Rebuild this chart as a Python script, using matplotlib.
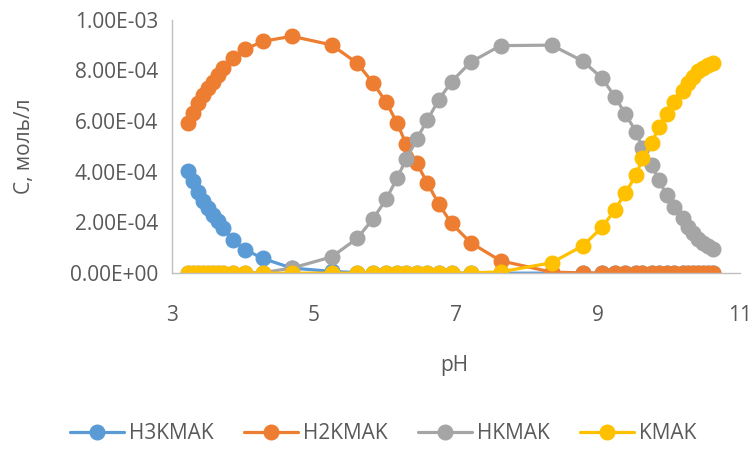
import numpy as np
import matplotlib.pyplot as plt
from matplotlib.ticker import FuncFormatter, MultipleLocator

# pH of each point
ph = [3.23, 3.30, 3.37, 3.44, 3.51, 3.58, 3.65, 3.72, 3.86, 4.03, 4.28, 4.69,
      5.25, 5.61, 5.83, 6.02, 6.17, 6.30, 6.45, 6.60, 6.76, 6.94, 7.21, 7.63,
      8.35, 8.79, 9.06, 9.24, 9.39, 9.54, 9.63, 9.76, 9.86, 9.97, 10.08, 10.20,
      10.27, 10.34, 10.41, 10.48, 10.55, 10.62]

# concentrations, units of 1e-4 mol/l
h3 = [4.04, 3.62, 3.22, 2.86, 2.56, 2.30, 2.05, 1.80, 1.30, 0.93, 0.58, 0.20,
      0.07, 0.02, 0.01, 0, 0, 0, 0, 0, 0, 0, 0, 0,
      0, 0, 0, 0, 0, 0, 0, 0, 0, 0, 0, 0,
      0, 0, 0, 0, 0, 0]
h2 = [5.92, 6.33, 6.71, 7.04, 7.31, 7.55, 7.83, 8.10, 8.50, 8.83, 9.15, 9.35,
      9.01, 8.29, 7.52, 6.75, 5.94, 5.10, 4.34, 3.55, 2.73, 1.96, 1.20, 0.49,
      0.04, 0.01, 0, 0, 0, 0, 0, 0, 0, 0, 0, 0,
      0, 0, 0, 0, 0, 0]
h1 = [0, 0, 0, 0, 0, 0, 0, 0, 0, 0.01, 0.02, 0.20,
      0.64, 1.37, 2.13, 2.92, 3.74, 4.49, 5.30, 6.05, 6.84, 7.56, 8.33, 8.98,
      9.00, 8.37, 7.70, 6.97, 6.28, 5.58, 4.93, 4.27, 3.68, 3.08, 2.62, 2.16,
      1.83, 1.57, 1.36, 1.18, 1.06, 0.95]
k = [0, 0, 0, 0, 0, 0, 0, 0, 0, 0, 0, 0,
     0, 0, 0, 0, 0, 0, 0, 0, 0, 0, 0.01, 0.05,
     0.41, 1.08, 1.81, 2.49, 3.17, 3.87, 4.53, 5.13, 5.76, 6.28, 6.77, 7.17,
     7.50, 7.76, 7.96, 8.09, 8.22, 8.31]

names = ["H3KMAK", "H2KMAK", "HKMAK", "KMAK"]
colors = ["#5B9BD5", "#ED7D31", "#A5A5A5", "#FFC000"]
xticks = [3, 5, 7, 9, 11]

plt.rcParams['font.family'] = ['Open Sans', 'DejaVu Sans']
txt = "#595959"

fig = plt.figure(figsize=(7.54, 4.5), dpi=100)
ax = fig.add_axes([0.228, 0.393, 0.753, 0.563])

for vals, name, c in zip([h3, h2, h1, k], names, colors):
    ax.plot(ph, np.array(vals) * 1e-4, color=c, lw=2.3, marker='o', ms=10.5,
            label=name, solid_capstyle='round')

ax.set_xlim(3, 11)
ax.set_ylim(0, 1e-3)
ax.set_xticks(xticks)
ax.yaxis.set_major_locator(MultipleLocator(2e-4))
ax.yaxis.set_major_formatter(FuncFormatter(lambda v, p: f"{v:.2E}"))
ax.tick_params(length=0, labelsize=15, colors=txt)
ax.tick_params(axis='y', pad=10)
ax.tick_params(axis='x', pad=23)

for s in ['top', 'right']:
    ax.spines[s].set_visible(False)
for s in ['left', 'bottom']:
    ax.spines[s].set_color('#BFBFBF')
    ax.spines[s].set_linewidth(1)

ax.set_xlabel("pH", fontsize=15, color=txt, va='center')
ax.set_ylabel("C, моль/л", fontsize=15, color=txt, va='center')
ax.xaxis.set_label_coords(0.497, -0.364)
ax.yaxis.set_label_coords(-0.259, 0.5)

fig.legend(loc='center', bbox_to_anchor=(0.508, 0.036), ncol=4, frameon=False,
           fontsize=15, labelcolor=txt, handlelength=2.6, handletextpad=0.24,
           columnspacing=1.44)

fig.savefig("out.png", dpi=100)
